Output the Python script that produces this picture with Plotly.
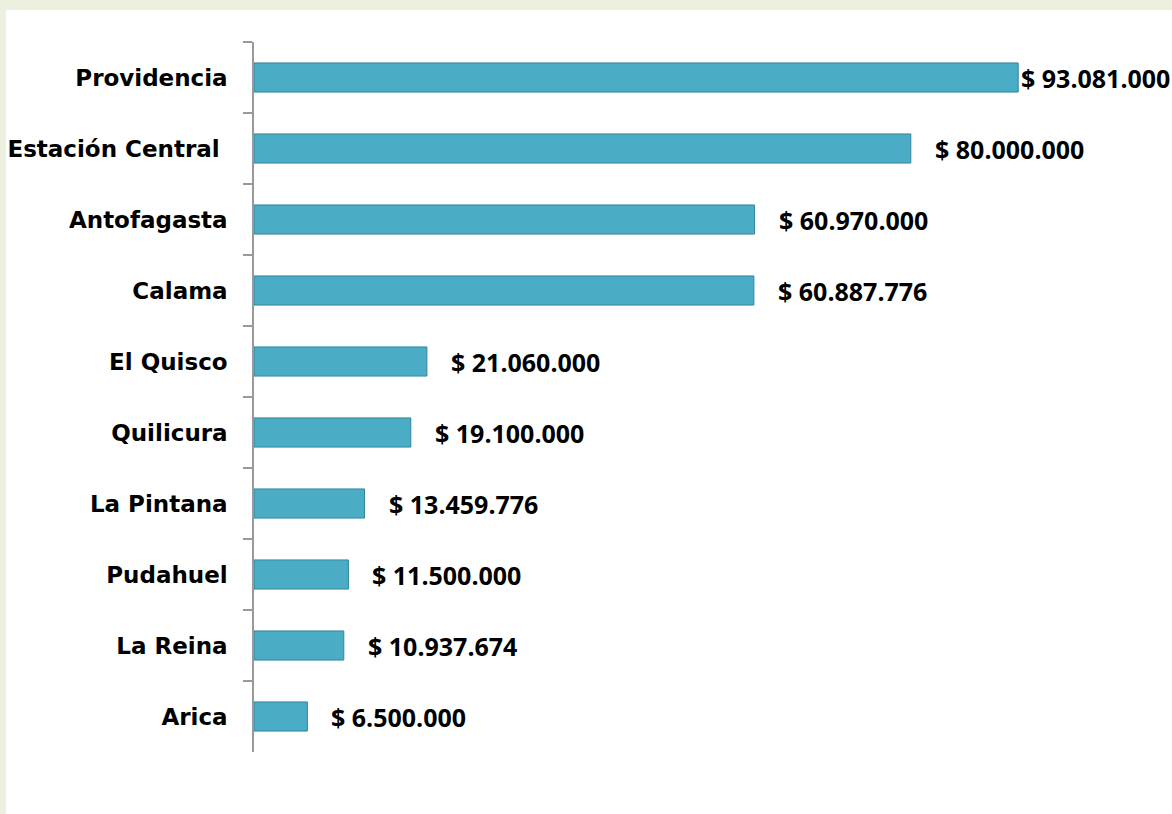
import plotly.graph_objects as go

comunas = ["Providencia", "Estación Central\u00a0", "Antofagasta", "Calama", "El Quisco",
           "Quilicura", "La Pintana", "Pudahuel", "La Reina", "Arica"]
montos = [93081000, 80000000, 60970000, 60887776, 21060000,
          19100000, 13459776, 11500000, 10937674, 6500000]

def fmt(v):
    return "$ " + f"{v:,}".replace(",", ".")

labels = [fmt(v) for v in montos]
CAT_FONT = "DejaVu Sans"
VAL_FONT = "Open Sans"

fig = go.Figure()
fig.add_trace(go.Bar(
    y=comunas, x=montos, orientation="h",
    marker=dict(color="#4bacc6", line=dict(color="#31859c", width=1)),
    hoverinfo="skip",
))
for c, v, t in zip(comunas, montos, labels):
    shift = 1 if v > 90000000 else 22
    fig.add_annotation(x=v, y=c, text="<b>" + t + "</b>", showarrow=False,
                       xanchor="left", xshift=shift,
                       font=dict(family=VAL_FONT, size=25, color="#000000"))

fig.add_shape(type="rect", xref="paper", yref="paper",
              x0=(6 - 254) / 821, x1=1.3, y0=-0.2, y1=(752 - 10) / 710,
              fillcolor="white", line=dict(width=0), layer="below")

fig.update_layout(
    width=1172, height=814,
    margin=dict(l=254, r=97, t=42, b=62, autoexpand=False),
    paper_bgcolor="#ebf1de", plot_bgcolor="rgba(0,0,0,0)",
    bargap=0.59, showlegend=False,
    xaxis=dict(visible=False, range=[0, 100000000]),
    yaxis=dict(autorange="reversed", type="category", tickson="boundaries",
               automargin=False,
               ticks="outside", ticklen=9, tickcolor="#999999", tickwidth=1.5,
               showline=True, linecolor="#999999", linewidth=1.5,
               showgrid=False, ticklabelstandoff=20,
               tickfont=dict(family=CAT_FONT, size=23, color="#000000"),
               tickprefix="<b>", ticksuffix="</b>"),
)
fig.write_html("out.html", config={"displayModeBar": False},
               post_script="document.body.style.margin='0';document.body.style.background='#ebf1de';")
